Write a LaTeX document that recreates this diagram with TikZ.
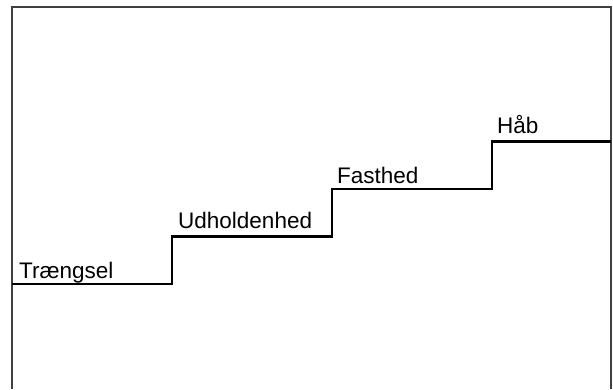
\documentclass[tikz,border=0pt]{standalone}
\usepackage{fontspec}
\setmainfont{Liberation Sans}
\begin{document}
\begin{tikzpicture}[x=1pt, y=-1pt]
\def\dx{160};
\def\dy{47.5};
\def\xl{12};
\def\xr{611};
\def\yt{7};
\def\yb{284};

\useasboundingbox (0,0) rectangle (613,389);

% frame, open at the bottom
\draw[black!75, line width=1.5pt] (\xl, 389) -- (\xl, \yt) -- (\xr, \yt) -- (\xr, 389);

% the stairs
\draw[line width=2.8pt] (\xl, \yb) -- (\xl + \dx, \yb) -- (\xl + \dx, \yb - \dy)
  -- (\xl + 2 * \dx, \yb - \dy) -- (\xl + 2 * \dx, \yb - 2 * \dy)
  -- (\xl + 3 * \dx, \yb - 2 * \dy) -- (\xl + 3 * \dx, \yb - 3 * \dy)
  -- (\xr, \yb - 3 * \dy);

\node[anchor=base west, font=\fontsize{22.5}{27}\selectfont, inner sep=0pt] (traengsel) at (\xl + 7, \yb - 6) {Trængsel};
\node[anchor=base west, font=\fontsize{22.5}{27}\selectfont, inner sep=0pt] (udholdenhed) at (\xl + \dx + 6, \yb - \dy - 8) {Udholdenhed};
\node[anchor=base west, font=\fontsize{22.5}{27}\selectfont, inner sep=0pt] (fasthed) at (\xl + 2 * \dx + 5, \yb - 2 * \dy - 6) {Fasthed};
\node[anchor=base west, font=\fontsize{22.5}{27}\selectfont, inner sep=0pt] (haab) at (\xl + 3 * \dx + 5, \yb - 3 * \dy - 8) {Håb};
\end{tikzpicture}
\end{document}
